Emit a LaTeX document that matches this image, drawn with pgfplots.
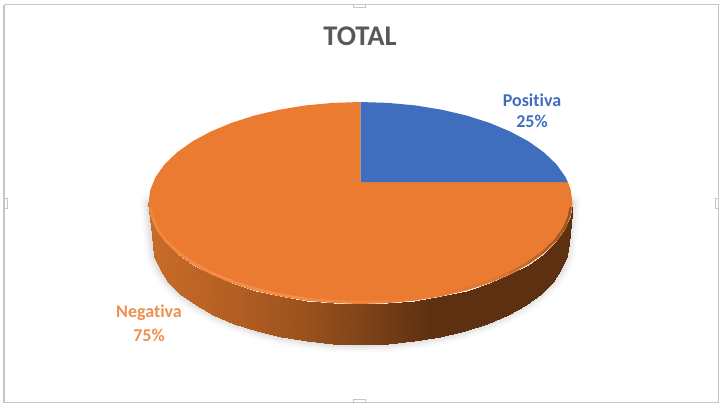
\documentclass[border=0pt]{standalone}
\usepackage{fontspec}
\setmainfont[Ligatures=NoCommon]{Carlito}
\usepackage{pgfplots}
\usepackage{pgfplotstable}
\pgfplotsset{compat=1.18}
\definecolor{pieblue}{HTML}{3F6EBF}
\definecolor{pieorange}{HTML}{EA7B30}
\definecolor{frameline}{HTML}{C6C6C6}

% bevel line, just inside the lower half of the top face, read off in pixels
\pgfplotstableread{
x y
150.5 208
152.0 216.0
157.2 228.4
166.0 240.6
178.0 252.0
193.2 262.8
211.3 272.6
232.0 281.3
255.0 288.7
279.8 294.5
305.9 298.8
333.0 301.3
360.5 302.2
388.0 301.3
415.1 298.8
441.2 294.5
466.0 288.7
489.0 281.3
509.7 272.6
527.8 262.8
543.0 252.0
555.0 240.6
563.8 228.4
569.0 216.0
570.5 208
}\rimline

% lower edge of the side wall
\pgfplotstableread{
x y
148.5 203
152.5 243
154.3 256.2
159.6 269.3
168.3 281.8
180.4 293.8
195.5 304.8
213.4 314.8
233.9 323.5
256.5 330.9
280.9 336.8
306.7 341
333.4 343.6
360.5 344.5
387.6 343.6
414.3 341
440.1 336.8
464.5 330.9
487.1 323.5
507.6 314.8
525.5 304.8
540.6 293.8
552.7 281.8
561.4 269.3
566.7 256.2
568.5 243
572.5 203
}\wallbottom

\begin{document}
\begin{tikzpicture}
\begin{axis}[
    scale only axis,
    width=722pt,height=405pt,
    xmin=0,xmax=722,ymin=0,ymax=405,
    y dir=reverse,
    hide axis,
    clip=false,
    point meta min=150,point meta max=570,
    colormap={wall}{rgb255=(200,108,40) rgb255=(184,96,36) rgb255=(160,85,31) rgb255=(128,68,26) rgb255=(94,48,18) rgb255=(94,48,18) rgb255=(94,48,18)},
    colormap={rim}{rgb255=(240,136,66) rgb255=(244,142,74) rgb255=(244,142,72) rgb255=(240,134,62) rgb255=(234,123,48) rgb255=(222,116,46) rgb255=(150,84,34)},
]
% keep the whole 722x405 page
\path (axis cs:0,0) (axis cs:722,405);

% frame of the chart object
\addplot[frameline,line width=1.2pt] coordinates {(4,4.5) (718.5,4.5) (718.5,402.8) (4,402.8) (4,4.5)};
\addplot[frameline,line width=.8pt] coordinates {(353,5) (353,7.5) (365,7.5) (365,5)};
\addplot[frameline,line width=.8pt] coordinates {(353,402) (353,399.5) (365,399.5) (365,402)};
\addplot[frameline,line width=.8pt] coordinates {(4,198) (7,198) (7,208) (4,208)};
\addplot[frameline,line width=.8pt] coordinates {(718,198) (715,198) (715,208) (718,208)};

% soft shadow round the wall
\addplot[black,opacity=.025,line width=16pt,line cap=round] table {\wallbottom};
\addplot[black,opacity=.03,line width=11pt,line cap=round] table {\wallbottom};
\addplot[black,opacity=.035,line width=7pt,line cap=round] table {\wallbottom};
\addplot[black,opacity=.04,line width=3pt,line cap=round] table {\wallbottom};

% side wall
\addplot[surf,shader=interp,colormap name=wall,point meta=x,mesh/rows=2,mesh/cols=25] table {
x y
148.5 203
150.3 216.2
155.7 229.2
164.6 241.7
176.9 253.5
192.3 264.5
210.6 274.4
231.4 283.1
254.5 290.5
279.4 296.3
305.6 300.6
332.8 303.1
360.5 304
388.2 303.1
415.4 300.6
441.6 296.3
466.5 290.5
489.6 283.1
510.4 274.4
528.7 264.5
544.1 253.5
556.4 241.7
565.3 229.2
570.7 216.2
572.5 203
152.5 243
154.3 256.2
159.6 269.3
168.3 281.8
180.4 293.8
195.5 304.8
213.4 314.8
233.9 323.5
256.5 330.9
280.9 336.8
306.7 341
333.4 343.6
360.5 344.5
387.6 343.6
414.3 341
440.1 336.8
464.5 330.9
487.1 323.5
507.6 314.8
525.5 304.8
540.6 293.8
552.7 281.8
561.4 269.3
566.7 256.2
568.5 243
};

% Negativa 75
\addplot[fill=pieorange,draw=none] coordinates {
(360.5,182) (567.8,182) (570.7,189.8) (572.5,203)
(570.7,216.2) (565.3,229.2) (556.4,241.7) (544.1,253.5) (528.7,264.5) (510.4,274.4)
(489.6,283.1) (466.5,290.5) (441.6,296.3) (415.4,300.6) (388.2,303.1) (360.5,304)
(332.8,303.1) (305.6,300.6) (279.4,296.3) (254.5,290.5) (231.4,283.1) (210.6,274.4)
(192.3,264.5) (176.9,253.5) (164.6,241.7) (155.7,229.2) (150.3,216.2) (148.5,203)
(150.3,189.8) (155.7,176.8) (164.6,164.3) (176.9,152.5) (192.3,141.5) (210.6,131.6)
(231.4,122.9) (254.5,115.5) (279.4,109.7) (305.6,105.4) (332.8,102.9) (360.5,102)
} --cycle;

% Positiva 25
\addplot[fill=pieblue,draw=none] coordinates {
(360.5,182) (360.5,102) (388.2,102.9) (415.4,105.4) (441.6,109.7) (466.5,115.5)
(489.6,122.9) (510.4,131.6) (528.7,141.5) (544.1,152.5) (556.4,164.3) (565.3,176.8) (567.8,182)
} --cycle;

% bevel along the rim
\addplot[mesh,colormap name=rim,point meta=x,line width=2.4pt,line cap=round] table {\rimline};

\node[font=\fontsize{28.5}{28.5}\selectfont\bfseries,text=black!65] at (axis cs:360,36) {TOTAL};
\node[font=\fontsize{18}{18}\selectfont\bfseries,text=pieblue] at (axis cs:532,100) {Positiva};
\node[font=\fontsize{18}{18}\selectfont\bfseries,text=pieblue] at (axis cs:532,121) {25\%};
\node[font=\fontsize{18}{18}\selectfont\bfseries,text=pieorange!85!white] at (axis cs:149,313) {Negativa};
\node[font=\fontsize{18}{18}\selectfont\bfseries,text=pieorange!85!white] at (axis cs:149,335) {75\%};
\end{axis}
\end{tikzpicture}
\end{document}
